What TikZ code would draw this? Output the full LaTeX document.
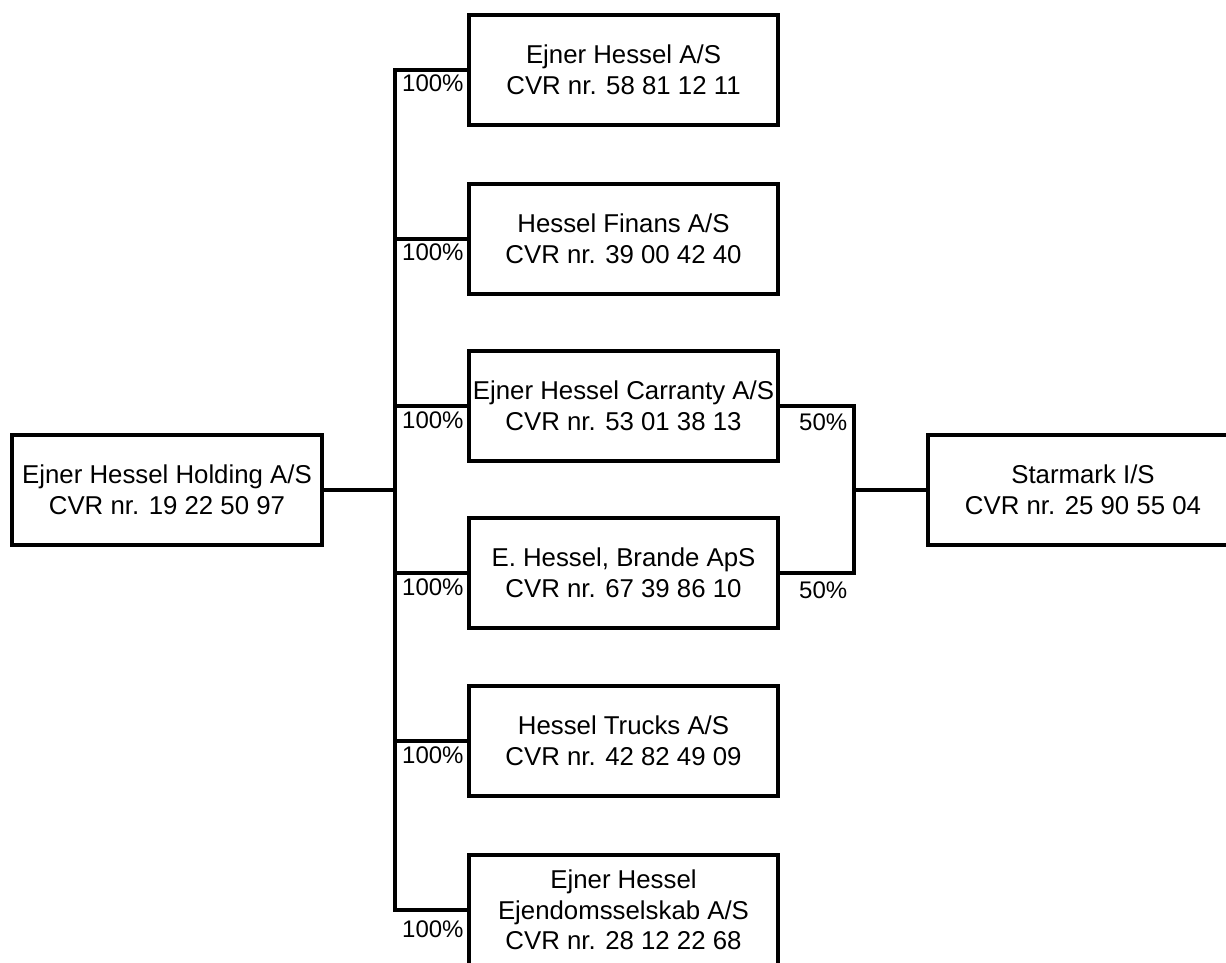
\documentclass[tikz,border=0pt]{standalone}
\usepackage{fontspec}
\setmainfont{Liberation Sans}
\begin{document}
\begin{tikzpicture}[x=1pt,y=-1pt,
  company/.style={draw=black,line width=3.6pt,fill=white,rectangle,inner sep=0pt,
    minimum width=309pt,minimum height=110pt,align=center,
    font=\fontsize{25.8}{30.5}\selectfont},
  conn/.style={draw=black,line width=3.2pt},
  pct/.style={anchor=base west,inner sep=0pt,font=\fontsize{24}{28}\selectfont}]
\clip (0,0) rectangle (1226,963);
\fill[white] (0,0) rectangle (1226,963);
% nodes
\node[company,minimum width=310pt] (hold) at (167,490) {Ejner Hessel Holding A/S\\CVR nr. 19 22 50 97};
\node[company] (c1) at (623.5,70) {Ejner Hessel A/S\\CVR nr. 58 81 12 11};
\node[company] (c2) at (623.5,239) {Hessel Finans A/S\\CVR nr. 39 00 42 40};
\node[company] (c3) at (623.5,406) {Ejner Hessel Carranty A/S\\CVR nr. 53 01 38 13};
\node[company] (c4) at (623.5,573) {E. Hessel, Brande ApS\\CVR nr. 67 39 86 10};
\node[company] (c5) at (623.5,741) {Hessel Trucks A/S\\CVR nr. 42 82 49 09};
\node[company] (c6) at (623.5,910) {Ejner Hessel\\Ejendomsselskab A/S\\CVR nr. 28 12 22 68};
\node[company,minimum width=310pt] (star) at (1083,490) {Starmark I/S\\CVR nr. 25 90 55 04};
% junction coordinates
\coordinate (trunk) at (395,490);
\coordinate (rj) at (854,490);
% connectors
\draw[conn] (c1.west) -| (trunk) |- (c6.west);
\draw[conn] (hold.east) -- (trunk);
\draw[conn] (trunk |- c2.west) -- (c2.west);
\draw[conn] (trunk |- c3.west) -- (c3.west);
\draw[conn] (trunk |- c4.west) -- (c4.west);
\draw[conn] (trunk |- c5.west) -- (c5.west);
\draw[conn] (c3.east) -| (rj) |- (c4.east);
\draw[conn] (rj) -- (star.west);
% labels
\node[pct] (p1) at (402,92) {100\%};
\node[pct] (p2) at (402,260) {100\%};
\node[pct] (p3) at (402,428) {100\%};
\node[pct] (p4) at (402,595) {100\%};
\node[pct] (p5) at (402,763) {100\%};
\node[pct] (p6) at (402,937) {100\%};
\node[pct] (q1) at (799,430) {50\%};
\node[pct] (q2) at (799,598) {50\%};
\end{tikzpicture}
\end{document}
